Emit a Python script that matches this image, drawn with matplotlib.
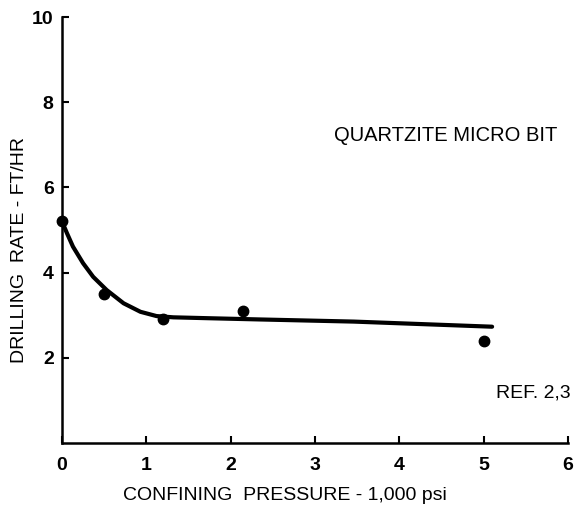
import matplotlib
matplotlib.use("Agg")
import matplotlib.pyplot as plt

plt.rcParams['font.family'] = ['Liberation Sans', 'DejaVu Sans']

# measured points
pressure = [0.0, 0.5, 1.2, 2.15, 5.0]
rate = [5.2, 3.5, 2.9, 3.1, 2.4]

# hand-drawn fit line
curve_x = [0.0, 0.06, 0.13, 0.25, 0.37, 0.53, 0.73, 0.93, 1.12, 1.32, 1.72, 2.35, 3.46, 5.1]
curve_y = [5.2, 4.92, 4.61, 4.22, 3.9, 3.59, 3.28, 3.08, 2.98, 2.95, 2.93, 2.9, 2.85, 2.73]

xticks = [0, 1, 2, 3, 4, 5, 6]
yticks = [2, 4, 6, 8, 10]

fig = plt.figure(figsize=(5.76, 5.08), dpi=100)
ax = fig.add_axes([62 / 576, 65 / 508, 506 / 576, 426 / 508])

ax.plot(curve_x, curve_y, color="black", lw=3, solid_capstyle="round", zorder=2)
ax.plot(pressure, rate, "o", color="black", ms=7.5, zorder=3, clip_on=False)

ax.set_xlim(0, 6)
ax.set_ylim(0, 10)
ax.set_xticks(xticks)
ax.set_yticks(yticks)
ax.tick_params(direction="in", length=5, width=1.5, labelsize=14, pad=6)
ax.tick_params(axis="x", pad=10)
for lab in ax.get_xticklabels() + ax.get_yticklabels():
    lab.set_fontweight("bold")
for s in ["top", "right"]:
    ax.spines[s].set_visible(False)
for s in ["left", "bottom"]:
    ax.spines[s].set_linewidth(1.8)

ax.text(3.22, 7.23, "QUARTZITE MICRO BIT", fontsize=14.5, va="center", ha="left")
ax.text(5.15, 1.17, "REF. 2,3", fontsize=14, va="center", ha="left")

fig.text(285 / 576, 13 / 508, "CONFINING  PRESSURE - 1,000 psi", fontsize=14,
         ha="center", va="center")
fig.text(20 / 576, 258 / 508, "DRILLING  RATE - FT/HR", fontsize=14,
         ha="center", va="center", rotation=90)

fig.savefig("out.png", dpi=100)
